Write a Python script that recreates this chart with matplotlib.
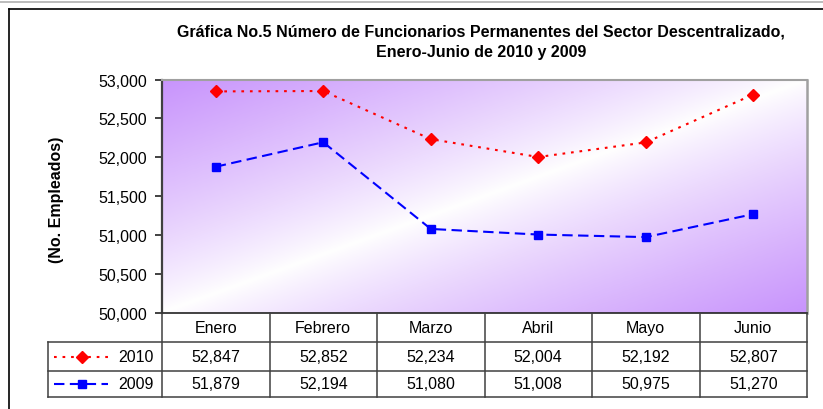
import numpy as np
import matplotlib
matplotlib.use('Agg')
import matplotlib.pyplot as plt
from matplotlib.colors import LinearSegmentedColormap
from matplotlib.lines import Line2D

plt.rcParams['font.family'] = ['Liberation Sans', 'DejaVu Sans']

meses = ['Enero', 'Febrero', 'Marzo', 'Abril', 'Mayo', 'Junio']
v2010 = [52847, 52852, 52234, 52004, 52192, 52807]
v2009 = [51879, 52194, 51080, 51008, 50975, 51270]
yticks = [50000, 50500, 51000, 51500, 52000, 52500, 53000]

W, H = 823, 410
fig = plt.figure(figsize=(W / 100, H / 100), dpi=100)

def fx(px):
    return px / W

def fy(py):
    return 1 - py / H

L, R, T, B = 162, 807, 80.5, 314
ax = fig.add_axes([fx(L), fy(B), fx(R) - fx(L), fy(T) - fy(B)])

# fondo degradado
nx, ny = 300, 120
gx, gy = np.meshgrid(np.linspace(0, 1, nx), np.linspace(0, 1, ny))
grad = np.abs(gx + gy - 1.0) ** 0.85
cmap = LinearSegmentedColormap.from_list('lila', ['#ffffff', '#c894fc'])
ax.imshow(grad, extent=(-0.5, 5.5, 50000, 53000), origin='upper', aspect='auto',
          cmap=cmap, vmin=0, vmax=1, zorder=0, interpolation='bilinear')

x = np.arange(len(meses))
ax.plot(x, v2010, color='red', lw=1.5, linestyle=(0, (1.3, 2.8)), marker='D',
        markersize=6.5, zorder=3)
ax.plot(x, v2009, color='blue', lw=1.5, linestyle=(0, (5, 2.6)), marker='s',
        markersize=6, zorder=3)

ax.set_xlim(-0.5, 5.5)
ax.set_ylim(50000, 53000)
ax.set_xticks([])
ax.set_yticks(yticks)
ax.set_yticklabels([f'{v:,}' for v in yticks], fontsize=11.5)
ax.tick_params(axis='y', direction='out', length=5, width=1.3, color='#333333', pad=6)

ax.spines['left'].set_color('#404040')
ax.spines['left'].set_linewidth(1.6)
ax.spines['bottom'].set_color('#222222')
ax.spines['bottom'].set_linewidth(1.2)
ax.spines['top'].set_color('#a0a0a0')
ax.spines['top'].set_linewidth(1.5)
ax.spines['right'].set_color('#a0a0a0')
ax.spines['right'].set_linewidth(1.8)

fig.text(fx(57), fy(200), '(No. Empleados)', rotation=90, fontsize=11.5,
         fontweight='bold', ha='center', va='center')

fig.text(fx(481), fy(32), 'Gráfica No.5 Número de Funcionarios Permanentes del Sector Descentralizado,',
         fontsize=11.5, fontweight='bold', ha='center', va='center')
fig.text(fx(481), fy(53), 'Enero-Junio de 2010 y 2009',
         fontsize=11.5, fontweight='bold', ha='center', va='center')

# tabla de datos
lc = '#404040'
rows = [314, 343, 372, 398]
colw = (R - L) / len(meses)
tl = 48

def hline(y, x0, x1):
    fig.add_artist(Line2D([fx(x0), fx(x1)], [fy(y), fy(y)], color=lc, lw=1.1))

def vline(xp, y0, y1):
    fig.add_artist(Line2D([fx(xp), fx(xp)], [fy(y0), fy(y1)], color=lc, lw=1.1))

hline(rows[1], tl, R)
hline(rows[2], tl, R)
hline(rows[3], tl, R)
vline(tl, rows[1], rows[3])
for i in range(len(meses) + 1):
    vline(L + i * colw, rows[0], rows[3])

for i, m in enumerate(meses):
    cx = L + (i + 0.5) * colw
    fig.text(fx(cx), fy((rows[0] + rows[1]) / 2), m, fontsize=11.5, ha='center', va='center')
    fig.text(fx(cx), fy((rows[1] + rows[2]) / 2), f'{v2010[i]:,}', fontsize=11.5,
             ha='center', va='center')
    fig.text(fx(cx), fy((rows[2] + rows[3]) / 2), f'{v2009[i]:,}', fontsize=11.5,
             ha='center', va='center')

series = [('2010', 'red', (0, (1.3, 2.8)), 'D', 6.5),
          ('2009', 'blue', (0, (5, 2.6)), 's', 6)]
for k, (lab, col, ls, mk, ms) in enumerate(series):
    yc = (rows[k + 1] + rows[k + 2]) / 2
    fig.add_artist(Line2D([fx(54), fx(108)], [fy(yc), fy(yc)], color=col, lw=1.5,
                          linestyle=ls))
    fig.add_artist(Line2D([fx(82)], [fy(yc)], color=col, marker=mk, markersize=ms))
    fig.text(fx(154), fy(yc), lab, fontsize=11.5, ha='right', va='center')

# marco
fig.add_artist(Line2D([fx(9), fx(9)], [fy(10), fy(H)], color='black', lw=1.2))
fig.add_artist(Line2D([fx(9), 1], [fy(10), fy(10)], color='black', lw=1.2))
fig.add_artist(Line2D([0, 1], [fy(2.5), fy(2.5)], color='#b0b0b0', lw=1.2))

fig.savefig('out.png', dpi=100)
